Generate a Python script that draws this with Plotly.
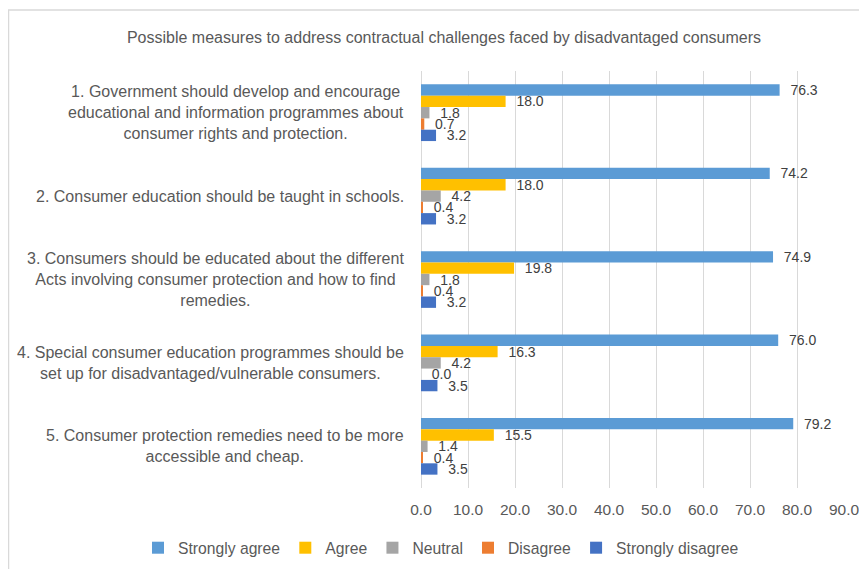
import plotly.graph_objects as go

categories = [
    "1. Government should develop and encourage<br>educational and information programmes about<br>consumer rights and protection.",
    "2. Consumer education should be taught in schools.",
    "3. Consumers should be educated about the different<br>Acts involving consumer protection and how to find<br>remedies.",
    "4. Special consumer education programmes should be<br>set up for disadvantaged/vulnerable consumers.",
    "5. Consumer protection remedies need to be more<br>accessible and cheap.",
]
series_names = ["Strongly agree", "Agree", "Neutral", "Disagree", "Strongly disagree"]
strongly_agree = [76.3, 74.2, 74.9, 76.0, 79.2]
agree = [18.0, 18.0, 19.8, 16.3, 15.5]
neutral = [1.8, 4.2, 1.8, 4.2, 1.4]
disagree = [0.7, 0.4, 0.4, 0.0, 0.4]
strongly_disagree = [3.2, 3.2, 3.2, 3.5, 3.5]
series_values = [strongly_agree, agree, neutral, disagree, strongly_disagree]
colors = ["#5B9BD5", "#FFC000", "#A5A5A5", "#ED7D31", "#4472C4"]
x_ticks = [0, 10, 20, 30, 40, 50, 60, 70, 80, 90]
title = "Possible measures to address contractual challenges faced by disadvantaged consumers"

FONT = "Liberation Sans, Arial, sans-serif"
TXT = "#595959"

W, H = 867, 569
L, T, PW, PH = 413, 63, 423, 417

fig = go.Figure()
for name, vals, col in zip(series_names, series_values, colors):
    fig.add_trace(go.Bar(
        y=categories, x=vals, name=name, orientation="h",
        marker=dict(color=col, line=dict(width=0)),
        text=["\u00a0\u00a0" + f"{v:.1f}" for v in vals], textposition="outside",
        constraintext="none",
        textfont=dict(family=FONT, size=14, color="#404040"),
        cliponaxis=False,
    ))

annotations = []
for c in categories:
    annotations.append(dict(
        x=-0.036, xref="paper", y=c, yref="y", text=c, showarrow=False,
        xanchor="right", yanchor="middle", align="center",
        font=dict(family=FONT, size=16, color=TXT),
    ))

fig.update_layout(
    width=W, height=H,
    margin=dict(l=L, r=W - L - PW, t=T, b=H - T - PH, autoexpand=False),
    paper_bgcolor="white", plot_bgcolor="white",
    barmode="group", bargap=0.32, bargroupgap=0,
    title=dict(text=title, x=436 / W, xref="container", xanchor="center",
               y=1 - 29 / H, yref="container", yanchor="middle",
               font=dict(family=FONT, size=16, color=TXT)),
    font=dict(family=FONT, size=15, color=TXT),
    xaxis=dict(range=[0, 90], tickvals=x_ticks, ticktext=[f"{t:.1f}" for t in x_ticks],
               showgrid=True, gridcolor="#D9D9D9", gridwidth=1,
               zeroline=True, zerolinecolor="#D9D9D9", zerolinewidth=1,
               showline=False, ticks="outside", ticklen=7, tickcolor="rgba(0,0,0,0)",
               tickfont=dict(family=FONT, size=15.5, color=TXT), fixedrange=True),
    yaxis=dict(autorange="reversed", showticklabels=False, showgrid=False,
               showline=False, ticks="", fixedrange=True),
    legend=dict(orientation="h", x=(130 - L) / PW, xref="paper", xanchor="left",
                y=-(540 - (T + PH)) / PH, yref="paper", yanchor="middle",
                font=dict(family=FONT, size=15.7, color=TXT),
                itemwidth=30, tracegroupgap=0),
    annotations=annotations,
    shapes=[dict(type="rect", xref="paper", yref="paper",
                 x0=(0.5 - L) / PW, x1=(W + 20 - L) / PW,
                 y0=-(H + 20 - (T + PH)) / PH, y1=((T + PH) - 2) / PH,
                 line=dict(color="#D9D9D9", width=1.5), fillcolor="rgba(0,0,0,0)",
                 layer="below")],
)

fig.write_html("out.html")
